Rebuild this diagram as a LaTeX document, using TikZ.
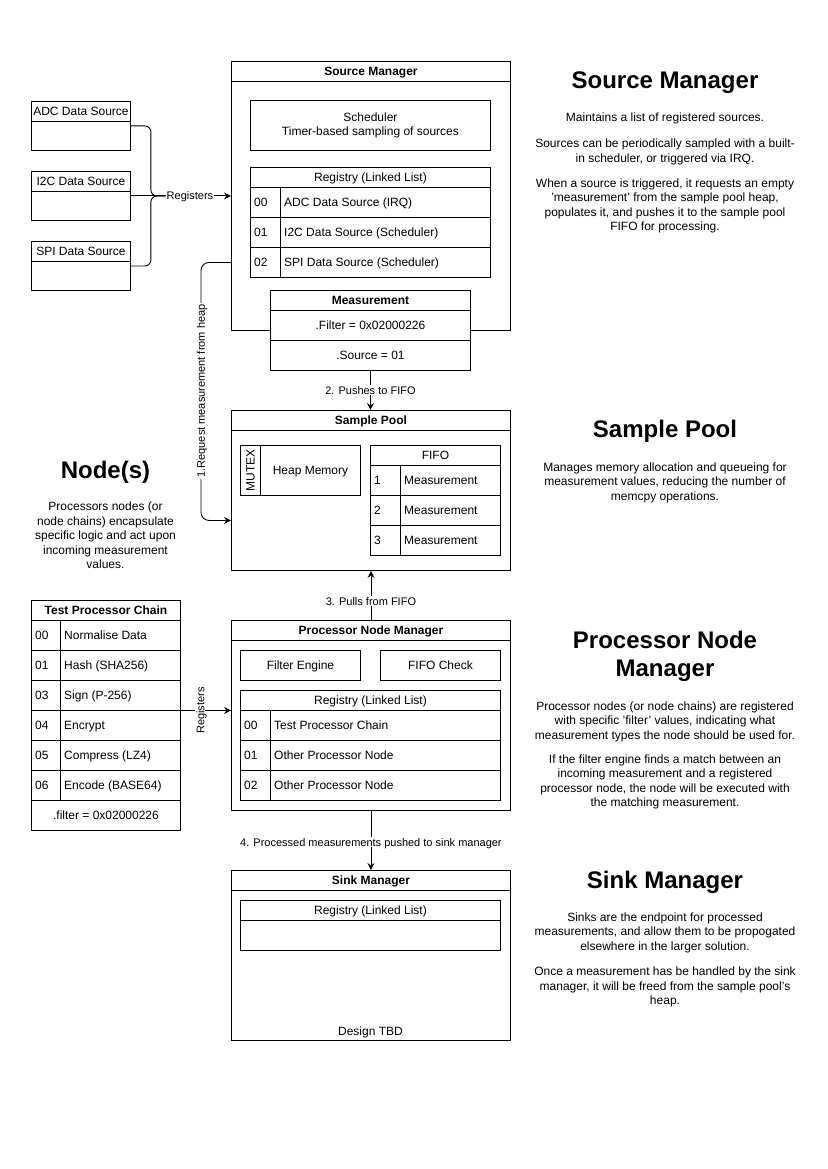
\documentclass[tikz,border=0pt]{standalone}
\usepackage{fontspec}
\setmainfont{Liberation Sans}
\usetikzlibrary{arrows.meta,calc}
\newcommand{\mkbox}[6]{\node[box, minimum width=#4pt, minimum height=#5pt] (#1) at (#2,#3) {#6};}
\newcommand{\mkhdr}[6]{\node[box, font=\fontsize{12}{14.4}\selectfont\bfseries, minimum width=#4pt, minimum height=#5pt] (#1) at (#2,#3) {#6};}
\newcommand{\mkcell}[6]{\node[box, minimum width=#4pt, minimum height=#5pt] (#1) at (#2,#3) {};
  \node[txt, anchor=west] (#1t) at ([xshift=4pt]#1.west) {#6};}
\begin{document}
\begin{tikzpicture}[x=1pt,y=-1pt,
  txt/.style={font=\fontsize{12}{14.4}\selectfont, inner sep=0pt, text depth=0pt},
  box/.style={draw, line width=0.9pt, fill=white, inner sep=0pt, anchor=north west, align=center, text depth=0pt, font=\fontsize{12}{14.4}\selectfont},
  para/.style={font=\fontsize{12}{14.4}\selectfont, inner sep=0pt, align=center},
  head/.style={font=\fontsize{24}{28}\selectfont\bfseries, align=center, inner sep=0pt},
  lbl/.style={fill=white, inner sep=1pt, text depth=0pt, font=\fontsize{11}{13}\selectfont},
  conn/.style={draw, line width=0.9pt},
  arr/.style={conn, -{Stealth[length=7pt,width=7pt,inset=2.5pt]}}]
\useasboundingbox (0,0) rectangle (827,1169);

% ---------- Data sources ----------
\mkbox{adc}{31}{101}{99}{49}{}
\mkbox{adch}{31}{101}{99}{20}{ADC Data Source}
\mkbox{i2c}{31}{171}{99}{49}{}
\mkbox{i2ch}{31}{171}{99}{20}{I2C Data Source}
\mkbox{spi}{31}{241}{99}{49}{}
\mkbox{spih}{31}{241}{99}{20}{SPI Data Source}

% ---------- Source Manager ----------
\mkbox{sm}{231}{61}{279}{269}{}
\mkhdr{smh}{231}{61}{279}{20}{Source Manager}
\node[box, minimum width=240pt, minimum height=50pt, text depth=] (sched) at (250,100) {Scheduler\\Timer-based sampling of sources};
\mkbox{sreg}{250}{167}{240}{20}{Registry (Linked List)}
\mkcell{sr0n}{250}{187}{30}{30}{00}
\mkcell{sr0}{280}{187}{210}{30}{ADC Data Source (IRQ)}
\mkcell{sr1n}{250}{217}{30}{30}{01}
\mkcell{sr1}{280}{217}{210}{30}{I2C Data Source (Scheduler)}
\mkcell{sr2n}{250}{247}{30}{30}{02}
\mkcell{sr2}{280}{247}{210}{30}{SPI Data Source (Scheduler)}

% ---------- Measurement ----------
\mkhdr{mh}{270}{290}{200}{20}{Measurement}
\mkbox{mf}{270}{310}{200}{30}{.Filter = 0x02000226}
\mkbox{ms}{270}{340}{200}{30}{.Source = 01}

% ---------- Sample Pool ----------
\mkbox{sp}{231}{410}{279}{160}{}
\mkhdr{sph}{231}{410}{279}{20}{Sample Pool}
\mkbox{mutex}{240}{445}{20}{50}{}
\node[txt, rotate=90] (mutext) at (mutex.center) {MUTEX};
\mkbox{heap}{260}{445}{100}{50}{Heap Memory}
\mkbox{fifoh}{370}{445}{130}{20}{FIFO}
\mkcell{f1n}{370}{465}{30}{30}{1}
\mkcell{f1}{400}{465}{100}{30}{Measurement}
\mkcell{f2n}{370}{495}{30}{30}{2}
\mkcell{f2}{400}{495}{100}{30}{Measurement}
\mkcell{f3n}{370}{525}{30}{30}{3}
\mkcell{f3}{400}{525}{100}{30}{Measurement}

% ---------- Processor Node Manager ----------
\mkbox{pnm}{231}{620}{279}{190}{}
\mkhdr{pnmh}{231}{620}{279}{20}{Processor Node Manager}
\mkbox{filt}{240}{650}{120}{30}{Filter Engine}
\mkbox{fchk}{380}{650}{120}{30}{FIFO Check}
\mkbox{preg}{240}{690}{260}{20}{Registry (Linked List)}
\mkcell{pr0n}{240}{710}{30}{30}{00}
\mkcell{pr0}{270}{710}{230}{30}{Test Processor Chain}
\mkcell{pr1n}{240}{740}{30}{30}{01}
\mkcell{pr1}{270}{740}{230}{30}{Other Processor Node}
\mkcell{pr2n}{240}{770}{30}{30}{02}
\mkcell{pr2}{270}{770}{230}{30}{Other Processor Node}

% ---------- Test Processor Chain ----------
\mkbox{tpc}{31}{600}{149}{230}{}
\mkhdr{tpch}{31}{600}{149}{20}{Test Processor Chain}
\mkcell{t0n}{31}{620}{29}{30}{00}
\mkcell{t0}{60}{620}{120}{30}{Normalise Data}
\mkcell{t1n}{31}{650}{29}{30}{01}
\mkcell{t1}{60}{650}{120}{30}{Hash (SHA256)}
\mkcell{t2n}{31}{680}{29}{30}{03}
\mkcell{t2}{60}{680}{120}{30}{Sign (P-256)}
\mkcell{t3n}{31}{710}{29}{30}{04}
\mkcell{t3}{60}{710}{120}{30}{Encrypt}
\mkcell{t4n}{31}{740}{29}{30}{05}
\mkcell{t4}{60}{740}{120}{30}{Compress (LZ4)}
\mkcell{t5n}{31}{770}{29}{30}{06}
\mkcell{t5}{60}{770}{120}{30}{Encode (BASE64)}
\mkbox{tf}{31}{800}{149}{30}{.filter = 0x02000226}

% ---------- Sink Manager ----------
\mkbox{sink}{231}{870}{279}{170}{}
\mkhdr{sinkh}{231}{870}{279}{20}{Sink Manager}
\mkbox{kreg}{240}{900}{260}{20}{Registry (Linked List)}
\mkbox{kbody}{240}{920}{260}{30}{}
\node[txt] (tbd) at (370.5,1031) {Design TBD};

% ---------- Connectors ----------
\draw[arr] (i2c.east) -- (i2c.east -| sm.west) node[lbl, pos=0.59] (regl) {Registers};
\coordinate (j) at ($(i2c.east)+(20,0)$);
\draw[conn, rounded corners=6pt] (adc.east) -| (j) -- (regl.west);
\draw[conn, rounded corners=6pt] (spi.east) -| (j) -- (regl.west);

\coordinate (rs) at (sm.west |- sr2n.west);
\coordinate (re) at ($(sp.west)+(0,30)$);
\draw[arr, rounded corners=8pt] (rs) -- ++(-30,0) |- (re);
\node[lbl, rotate=90] (reql) at (201,391) {1.Request measurement from heap};

\draw[arr] (ms.south) -- (ms.south |- sph.north) node[lbl, midway] (l2) {2. Pushes to FIFO};
\draw[arr] (pnmh.north) -- (pnmh.north |- sp.south) node[lbl, pos=0.38] (l3) {3. Pulls from FIFO};
\draw[arr] ([yshift=5pt]tpc.east) -- ([yshift=5pt]pnm.west) node[lbl, rotate=90, pos=0.39] (reg2) {Registers};
\draw[arr] (pnm.south) -- (pnm.south |- sinkh.north) node[lbl, pos=0.53] (l4) {4. Processed measurements pushed to sink manager};

% ---------- Descriptions ----------
\node[head] (hsm) at (665,82.5) {Source Manager};
\node[para] (psm1) at (665,118) {Maintains a list of registered sources.};
\node[para] (psm2) at (665,152) {Sources can be periodically sampled with a built-\\in scheduler, or triggered via IRQ.};
\node[para] (psm3) at (665,206) {When a source is triggered, it requests an empty\\'measurement' from the sample pool heap,\\populates it, and pushes it to the sample pool\\FIFO for processing.};

\node[head] (hsp) at (665,431.5) {Sample Pool};
\node[para] (psp1) at (665,482.5) {Manages memory allocation and queueing for\\measurement values, reducing the number of\\memcpy operations.};

\node[head] (hpn) at (665,656.5) {Processor Node\\Manager};
\node[para] (ppn1) at (665,721.5) {Processor nodes (or node chains) are registered\\with specific 'filter' values, indicating what\\measurement types the node should be used for.};
\node[para] (ppn2) at (665,782) {If the filter engine finds a match between an\\incoming measurement and a registered\\processor node, the node will be executed with\\the matching measurement.};

\node[head] (hsk) at (665,882.5) {Sink Manager};
\node[para] (psk1) at (665,932.5) {Sinks are the endpoint for processed\\measurements, and allow them to be propogated\\elsewhere in the larger solution.};
\node[para] (psk2) at (665,987) {Once a measurement has be handled by the sink\\manager, it will be freed from the sample pool's\\heap.};

\node[head] (hnd) at (105.5,472.5) {Node(s)};
\node[para] (pnd) at (105.5,535.5) {Processors nodes (or\\node chains) encapsulate\\specific logic and act upon\\incoming measurement\\values.};
\end{tikzpicture}
\end{document}
